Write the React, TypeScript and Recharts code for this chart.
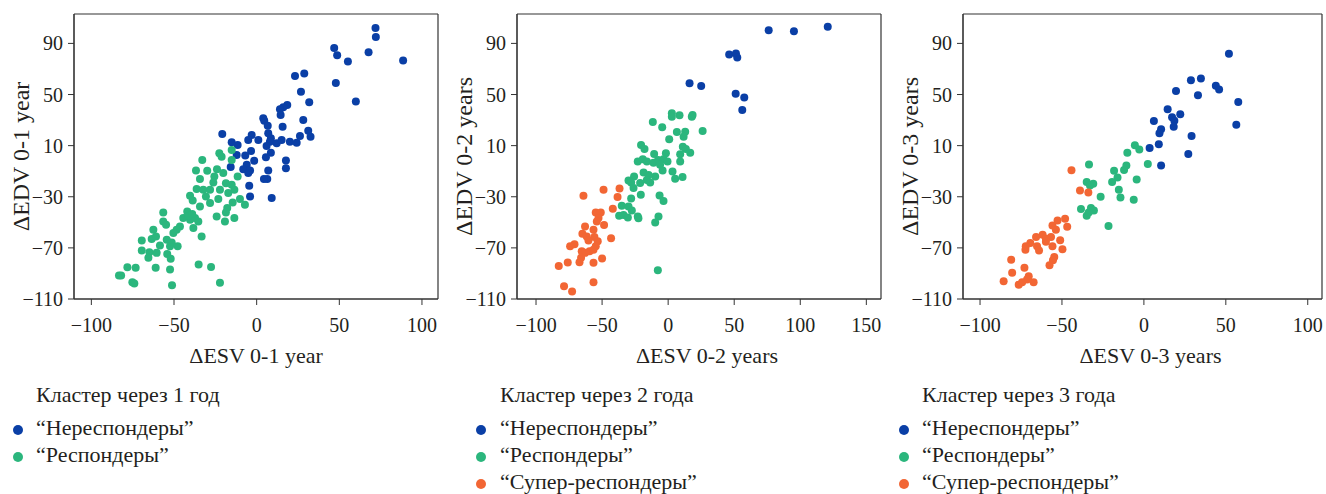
import React from 'react';
import { ScatterChart, Scatter, XAxis, YAxis, CartesianGrid, Label } from 'recharts';

const BLUE = '#0a3fa6';
const GREEN = '#2bb67d';
const ORANGE = '#f26634';
const FONT = '"Liberation Serif", "Times New Roman", serif';

type Pt = { x: number; y: number };

// year 1
const nonResp1: Pt[] = [
  { x: 71.9, y: 102 }, { x: 72.1, y: 95 }, { x: 67.7, y: 83.1 }, { x: 88.6, y: 76.6 }, { x: 46.9, y: 86.4 },
  { x: 48.7, y: 80.7 }, { x: 55.2, y: 75.8 }, { x: 60, y: 44.6 }, { x: 23.2, y: 64.4 }, { x: 28.8, y: 66.5 },
  { x: 47.9, y: 59.1 }, { x: 26.8, y: 52.1 }, { x: 31.8, y: 43.9 }, { x: 18.5, y: 41.8 }, { x: 16.1, y: 40 },
  { x: 14.1, y: 38.4 }, { x: 14.5, y: 33.9 }, { x: 4, y: 31.4 }, { x: 4.6, y: 29.5 }, { x: 6.7, y: 25.6 },
  { x: 15.7, y: 24.8 }, { x: 28.2, y: 30 }, { x: 31.2, y: 21.7 }, { x: 26.2, y: 17.6 }, { x: 32.6, y: 17 },
  { x: 20.1, y: 13.1 }, { x: 24.2, y: 12.3 }, { x: 7, y: 19.7 }, { x: 8.6, y: 15.8 }, { x: 8, y: 13.1 },
  { x: 12.1, y: 11.9 }, { x: 15.1, y: 14.4 }, { x: 1, y: 14.4 }, { x: -3, y: 18.3 }, { x: -5.1, y: 14.4 },
  { x: -20.8, y: 19.1 }, { x: -15.1, y: 12.6 }, { x: -11.5, y: 10.5 }, { x: 6, y: 9.8 }, { x: 8.6, y: 4.5 },
  { x: -3.4, y: 5.9 }, { x: -12.1, y: 2.7 }, { x: -6.9, y: 2.2 }, { x: -1.5, y: -1.9 }, { x: 5.6, y: 1 },
  { x: 17.7, y: -1.7 }, { x: 17.7, y: -7.6 }, { x: -6, y: -5 }, { x: -8.1, y: -8.4 }, { x: -4, y: -9.5 },
  { x: 7, y: -9.5 }, { x: -5.1, y: -11.5 }, { x: -15.7, y: -6.8 }, { x: 6.4, y: -16.2 }, { x: 4.4, y: -16.2 },
  { x: -4.5, y: -21.4 }, { x: -4, y: -29.8 }, { x: 9.1, y: -31 },
];
const resp1: Pt[] = [
  { x: -15.1, y: 6.6 }, { x: -22.6, y: 4.1 }, { x: -21.2, y: 1.4 }, { x: -32.9, y: -1.2 }, { x: -15.1, y: -1.2 },
  { x: -36.7, y: -9.5 }, { x: -29.9, y: -9.7 }, { x: -24, y: -8.4 }, { x: -20.2, y: -11.5 }, { x: -11.5, y: -14.2 },
  { x: -34.3, y: -16.2 }, { x: -25.6, y: -14.2 }, { x: -26.2, y: -18.9 }, { x: -18.6, y: -19.4 }, { x: -15.1, y: -20.7 },
  { x: -36.3, y: -24 }, { x: -32.3, y: -24.5 }, { x: -28.2, y: -24.5 }, { x: -22.2, y: -24.5 }, { x: -13.5, y: -24.5 },
  { x: -17.2, y: -27.1 }, { x: -40.3, y: -29.2 }, { x: -30.7, y: -29.8 }, { x: -23.2, y: -31.8 }, { x: -38.7, y: -32.9 },
  { x: -28.2, y: -34.9 }, { x: -34.3, y: -37.6 }, { x: -14.5, y: -34.5 }, { x: -10.1, y: -31.8 }, { x: -7.1, y: -36.3 },
  { x: -17.8, y: -38.8 }, { x: -18.6, y: -42.3 }, { x: -24.2, y: -45.4 }, { x: -19.2, y: -49.3 }, { x: -13.5, y: -46.6 },
  { x: -42, y: -41.5 }, { x: -44.4, y: -46.6 }, { x: -40.3, y: -48 }, { x: -37.3, y: -46.6 }, { x: -38.3, y: -54.4 },
  { x: -35.3, y: -49.3 }, { x: -33.3, y: -61 }, { x: -46.4, y: -53.2 }, { x: -48.4, y: -55.8 }, { x: -50.4, y: -58.3 },
  { x: -56.5, y: -42.3 }, { x: -56.5, y: -49.3 }, { x: -54.8, y: -51.9 }, { x: -62.5, y: -55.8 }, { x: -63.5, y: -63 },
  { x: -69.5, y: -64.3 }, { x: -60.9, y: -61 }, { x: -54.4, y: -63.6 }, { x: -51.4, y: -65.7 }, { x: -47.8, y: -68.8 },
  { x: -58.5, y: -68.2 }, { x: -52.4, y: -68.8 }, { x: -54.1, y: -74.7 }, { x: -52, y: -78.6 }, { x: -69.5, y: -72.1 },
  { x: -64.9, y: -73.5 }, { x: -65.5, y: -77.8 }, { x: -60.5, y: -73.9 }, { x: -78.2, y: -85.2 }, { x: -73.2, y: -85.6 },
  { x: -61.1, y: -85.6 }, { x: -52.4, y: -87 }, { x: -83.3, y: -91.6 }, { x: -82, y: -91.6 }, { x: -75.2, y: -96.9 },
  { x: -74, y: -97.9 }, { x: -51.2, y: -99.2 }, { x: -35.1, y: -83 }, { x: -27.6, y: -84.9 }, { x: -22.2, y: -97.3 },
  { x: -41.5, y: -45 }, { x: -39, y: -43.5 },
];

// year 2
const nonResp2: Pt[] = [
  { x: 120.8, y: 103.1 }, { x: 76.1, y: 100.2 }, { x: 95.2, y: 99.5 }, { x: 46.2, y: 81.3 }, { x: 51.3, y: 82.1 },
  { x: 52.3, y: 79 }, { x: 16.2, y: 58.9 }, { x: 25, y: 56.6 }, { x: 51.1, y: 50.6 }, { x: 57.6, y: 47.7 },
  { x: 56.1, y: 37.8 },
];
const resp2: Pt[] = [
  { x: 2.8, y: 35.3 }, { x: 2.8, y: 32.6 }, { x: 8.6, y: 33.7 }, { x: 18.5, y: 33.9 }, { x: 17.9, y: 32.6 },
  { x: -11.6, y: 28.5 }, { x: -4.5, y: 24.3 }, { x: 6.6, y: 20.7 }, { x: 12.9, y: 20.9 }, { x: 11.7, y: 17 },
  { x: 26.1, y: 21.5 }, { x: 0.8, y: 15 }, { x: -20.5, y: 10.5 }, { x: -17.9, y: 7.4 }, { x: 11.1, y: 9.2 },
  { x: 13.4, y: 7.4 }, { x: 16.7, y: 4.5 }, { x: 9.1, y: 3.3 }, { x: -1.7, y: 4.1 }, { x: -10.6, y: 3.5 },
  { x: -23, y: -2.5 }, { x: -19.2, y: -0.6 }, { x: -16.1, y: -2.5 }, { x: -11.1, y: -3.3 }, { x: -7.6, y: -1.2 },
  { x: -3.5, y: -0.6 }, { x: -0.5, y: -2.5 }, { x: -6.1, y: -5 }, { x: 9.1, y: -2.5 }, { x: -4.2, y: -9.5 },
  { x: 3.3, y: -10.3 }, { x: 5.3, y: -16 }, { x: 10.9, y: -14.6 }, { x: -9.8, y: -14.2 }, { x: -18.6, y: -11.1 },
  { x: -14.8, y: -12.9 }, { x: -16.1, y: -16.8 }, { x: -13.6, y: -18.9 }, { x: -25.8, y: -14.2 }, { x: -30, y: -17.3 },
  { x: -28, y: -18.9 }, { x: -26.2, y: -23.2 }, { x: -21.2, y: -19.3 }, { x: -20.7, y: -28.5 }, { x: -28, y: -31.3 },
  { x: -6.5, y: -29 }, { x: -3.5, y: -33.4 }, { x: -35.1, y: -37 }, { x: -30, y: -37.6 }, { x: -27.5, y: -40.7 },
  { x: -37.1, y: -44.8 }, { x: -33.8, y: -44.3 }, { x: -30.5, y: -46.2 }, { x: -23, y: -45.4 }, { x: -22.5, y: -46.8 },
  { x: -7.3, y: -45.4 }, { x: -9.8, y: -50.1 }, { x: -7.8, y: -87.5 },
];
const superResp2: Pt[] = [
  { x: -48.9, y: -24.5 }, { x: -36.8, y: -23.5 }, { x: -64.1, y: -29.2 }, { x: -38.3, y: -30.2 }, { x: -41.9, y: -39.4 },
  { x: -54.8, y: -42.3 }, { x: -51, y: -42.3 }, { x: -52.7, y: -46.6 }, { x: -54, y: -49.3 }, { x: -48.5, y: -52.1 },
  { x: -62.9, y: -53.2 }, { x: -56.5, y: -55.8 }, { x: -64.9, y: -58.9 }, { x: -61.6, y: -61 }, { x: -55.8, y: -61.5 },
  { x: -60.3, y: -64.3 }, { x: -53.3, y: -64.9 }, { x: -43.2, y: -62.5 }, { x: -74.2, y: -68.8 }, { x: -70.9, y: -67.2 },
  { x: -54.8, y: -68.8 }, { x: -65.4, y: -72.7 }, { x: -62.9, y: -73.9 }, { x: -59.5, y: -72.7 }, { x: -56.5, y: -71.4 },
  { x: -65.9, y: -77.8 }, { x: -67.1, y: -81.3 }, { x: -50, y: -78.4 }, { x: -76, y: -81.5 }, { x: -82.8, y: -84.1 },
  { x: -56.5, y: -81.7 }, { x: -78.8, y: -100 }, { x: -72.7, y: -104.1 }, { x: -56.5, y: -96.9 },
];

// year 3
const nonResp3: Pt[] = [
  { x: 51.9, y: 81.8 }, { x: 28.7, y: 61.2 }, { x: 34.8, y: 62.6 }, { x: 43.9, y: 56.8 }, { x: 45.9, y: 54 },
  { x: 19.6, y: 52.7 }, { x: 33, y: 49.5 }, { x: 57.6, y: 44.1 }, { x: 14.5, y: 38.4 }, { x: 22.2, y: 34.5 },
  { x: 17.2, y: 32.2 }, { x: 18.6, y: 29.5 }, { x: 18.2, y: 24.8 }, { x: 6.1, y: 29.3 }, { x: 10.5, y: 22.8 },
  { x: 9.5, y: 19.7 }, { x: 56.4, y: 26.4 }, { x: 29.1, y: 17.6 }, { x: 3.5, y: 8.2 }, { x: 9.1, y: 11.1 },
  { x: 27.1, y: 3.5 }, { x: 10.5, y: -5.6 },
];
const resp3: Pt[] = [
  { x: -5.5, y: 10.3 }, { x: -2.8, y: 6.9 }, { x: -10.1, y: 4.5 }, { x: 2.4, y: -4.3 }, { x: -10.7, y: -5.6 },
  { x: -12.1, y: -9 }, { x: -33.5, y: -4.8 }, { x: -18.2, y: -9.7 }, { x: -16.1, y: -15 }, { x: -19.4, y: -18.5 },
  { x: -4.4, y: -16.5 }, { x: -34.9, y: -18.5 }, { x: -30.9, y: -19.9 }, { x: -32.9, y: -21.2 }, { x: -15.3, y: -24.6 },
  { x: -26.4, y: -30 }, { x: -14.3, y: -30.6 }, { x: -6.2, y: -32.4 }, { x: -38.4, y: -39.6 }, { x: -32.3, y: -38.8 },
  { x: -30.5, y: -40.7 }, { x: -34.9, y: -44.8 }, { x: -33.7, y: -42.3 }, { x: -21.6, y: -52.9 },
];
const superResp3: Pt[] = [
  { x: -44.2, y: -9.2 }, { x: -39, y: -25.1 }, { x: -33.9, y: -26.7 }, { x: -52.7, y: -48.5 }, { x: -48.1, y: -47.2 },
  { x: -55.8, y: -52.4 }, { x: -53.7, y: -55.8 }, { x: -46.8, y: -53.4 }, { x: -61.8, y: -59.7 }, { x: -65.8, y: -61.4 },
  { x: -59.8, y: -62.8 }, { x: -56.7, y: -61.4 }, { x: -51.1, y: -64.1 }, { x: -69.3, y: -66.1 }, { x: -65.2, y: -68.8 },
  { x: -72.1, y: -68.8 }, { x: -72.3, y: -71.4 }, { x: -64, y: -72.1 }, { x: -59.8, y: -65.3 }, { x: -55.8, y: -68.8 },
  { x: -49.7, y: -71.1 }, { x: -81, y: -79.2 }, { x: -54.7, y: -77.1 }, { x: -55.5, y: -79.7 }, { x: -57.6, y: -83.6 },
  { x: -72.9, y: -85.6 }, { x: -80.4, y: -89.5 }, { x: -70.3, y: -92.2 }, { x: -71.3, y: -94.8 }, { x: -67.3, y: -96.9 },
  { x: -85.6, y: -96.1 }, { x: -76.4, y: -98.9 }, { x: -74.3, y: -96.9 },
];

const yTicks = [-110, -70, -30, 10, 50, 90];
const xTicks13 = [-100, -50, 0, 50, 100];
const xTicks2 = [-100, -50, 0, 50, 100, 150];
const yDomain: [number, number] = [-110, 113];

const titles = ['Кластер через 1 год', 'Кластер через 2 года', 'Кластер через 3 года'];
const labelNon = '“Нереспондеры”';
const labelResp = '“Респондеры”';
const labelSuper = '“Супер-респондеры”';

const dot = (color: string) => (p: any) => <circle cx={p.cx} cy={p.cy} r={4} fill={color} />;

const INK = '#231f20';
const tickStyle = { fontFamily: FONT, fontSize: 20, fill: INK };
const fmt = (v: number) => String(v).replace('-', '\u2212');

type PanelProps = {
  left: number;
  yAxisW: number;
  width: number;
  xDomain: [number, number];
  xTicks: number[];
  xLabel: string;
  yLabel: string;
  xLabelDx: number;
  series: { data: Pt[]; color: string }[];
};

function Panel({ left, yAxisW, width, xDomain, xTicks, xLabel, yLabel, xLabelDx, series }: PanelProps) {
  return (
    <div style={{ position: 'absolute', left, top: 0 }}>
      <ScatterChart width={width} height={370} margin={{ top: 14, right: 2, bottom: 0, left: 0 }}>
        <CartesianGrid
          stroke="#333"
          strokeWidth={1.2}
          horizontalCoordinatesGenerator={(p: any) => [p.offset.top, p.offset.top + p.offset.height]}
          verticalCoordinatesGenerator={(p: any) => [p.offset.left, p.offset.left + p.offset.width]}
        />
        <XAxis
          type="number"
          dataKey="x"
          domain={xDomain}
          ticks={xTicks}
          allowDataOverflow
          height={71}
          tickSize={6}
          tickMargin={13}
          stroke="#333"
          tick={tickStyle}
          tickFormatter={fmt}
        >
          <Label value={xLabel} position="insideBottom" offset={7} dx={xLabelDx} style={{ fontFamily: FONT, fontSize: 22, fill: INK }} />
        </XAxis>
        <YAxis
          type="number"
          dataKey="y"
          domain={yDomain}
          ticks={yTicks}
          allowDataOverflow
          width={yAxisW}
          tickSize={6}
          tickMargin={5}
          stroke="#333"
          tick={tickStyle}
          tickFormatter={fmt}
        >
          <Label
            value={yLabel}
            position="insideLeft"
            angle={-90}
            offset={yAxisW - 54}
            style={{ fontFamily: FONT, fontSize: 24, fill: INK, textAnchor: 'middle' }}
          />
        </YAxis>
        {series.map((s, i) => (
          <Scatter key={i} data={s.data} fill={s.color} shape={dot(s.color)} isAnimationActive={false} />
        ))}
      </ScatterChart>
    </div>
  );
}

function LegendBlock({ left, dotX, textX, title, items }: { left: number; dotX: number; textX: number; title: string; items: { label: string; color: string }[] }) {
  return (
    <div style={{ position: 'absolute', left, top: 381, fontFamily: FONT, fontSize: 22, color: INK }}>
      <div style={{ position: 'absolute', left: textX, top: 0, whiteSpace: 'nowrap', lineHeight: '27px' }}>{title}</div>
      {items.map((it, i) => (
        <div key={i} style={{ position: 'absolute', left: 0, top: 36 + i * 27, height: 22, whiteSpace: 'nowrap', lineHeight: '22px' }}>
          <span style={{ position: 'absolute', left: dotX - 5, top: 8, width: 10, height: 10, borderRadius: 5, background: it.color }} />
          <span style={{ position: 'absolute', left: textX, top: 0 }}>{it.label}</span>
        </div>
      ))}
    </div>
  );
}

export default function App() {
  return (
    <div style={{ position: 'absolute', left: 0, top: 0, width: 1326, height: 494, background: '#fff', overflow: 'hidden' }}>
      <Panel
        left={0}
        yAxisW={74}
        width={440}
        xDomain={[-110.5, 109.7]}
        xTicks={xTicks13}
        xLabel="ΔESV 0-1 year"
        yLabel="ΔEDV 0-1 year"
        xLabelDx={0}
        series={[{ data: nonResp1, color: BLUE }, { data: resp1, color: GREEN }]}
      />
      <Panel
        left={440}
        yAxisW={77}
        width={443}
        xDomain={[-114.4, 161.1]}
        xTicks={xTicks2}
        xLabel="ΔESV 0-2 years"
        yLabel="ΔEDV 0-2 years"
        xLabelDx={8}
        series={[{ data: nonResp2, color: BLUE }, { data: resp2, color: GREEN }, { data: superResp2, color: ORANGE }]}
      />
      <Panel
        left={883}
        yAxisW={80}
        width={441}
        xDomain={[-110.4, 108.7]}
        xTicks={xTicks13}
        xLabel="ΔESV 0-3 years"
        yLabel="ΔEDV 0-3 years"
        xLabelDx={8}
        series={[{ data: nonResp3, color: BLUE }, { data: resp3, color: GREEN }, { data: superResp3, color: ORANGE }]}
      />
      <LegendBlock
        left={0}
        dotX={18}
        textX={36}
        title={titles[0]}
        items={[{ label: labelNon, color: BLUE }, { label: labelResp, color: GREEN }]}
      />
      <LegendBlock
        left={465}
        dotX={16}
        textX={35}
        title={titles[1]}
        items={[{ label: labelNon, color: BLUE }, { label: labelResp, color: GREEN }, { label: labelSuper, color: ORANGE }]}
      />
      <LegendBlock
        left={890}
        dotX={14}
        textX={32}
        title={titles[2]}
        items={[{ label: labelNon, color: BLUE }, { label: labelResp, color: GREEN }, { label: labelSuper, color: ORANGE }]}
      />
    </div>
  );
}
